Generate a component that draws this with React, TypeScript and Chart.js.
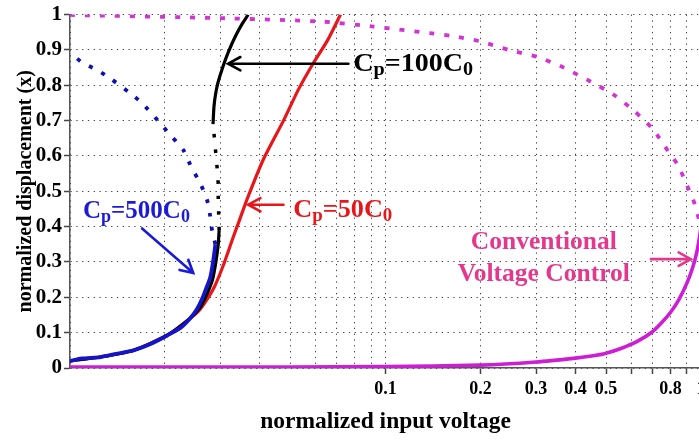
import { useEffect, useRef } from 'react';
import { Chart, registerables } from 'chart.js';

Chart.register(...registerables);

const FONT = '"Liberation Serif", "Times New Roman", serif';

// x-axis (log) ticks and which of them carry labels
const xTicks = [0.01, 0.02, 0.03, 0.04, 0.05, 0.06, 0.07, 0.08, 0.09, 0.1, 0.2, 0.3, 0.4, 0.5, 0.6, 0.7, 0.8, 0.9, 1];
const xLabeled = [0.1, 0.2, 0.3, 0.4, 0.5, 0.8, 1];
const yTicks = [0, 0.1, 0.2, 0.3, 0.4, 0.5, 0.6, 0.7, 0.8, 0.9, 1];

// Cp = 500 C0 : stable (solid) and unstable (dotted) branches
const cp500StableX = [0.0100, 0.0109, 0.0125, 0.0140, 0.0159, 0.0180, 0.0203, 0.0225, 0.0240, 0.0253, 0.0262, 0.0270, 0.0278, 0.0284, 0.0289];
const cp500StableY = [0.020, 0.027, 0.031, 0.040, 0.050, 0.068, 0.092, 0.115, 0.140, 0.168, 0.195, 0.225, 0.255, 0.300, 0.350];
const cp500UnstableX = [0.0289, 0.0282, 0.0278, 0.0272, 0.0261, 0.0240, 0.0229, 0.0203, 0.0190, 0.0169, 0.0156, 0.0134, 0.0122, 0.0109, 0.0102, 0.0100];
const cp500UnstableY = [0.350, 0.390, 0.432, 0.475, 0.515, 0.577, 0.616, 0.670, 0.700, 0.750, 0.776, 0.820, 0.843, 0.865, 0.886, 0.890];

// Cp = 100 C0 : lower solid, dotted fold, upper solid
const cp100LowerX = [0.0100, 0.0125, 0.0159, 0.0203, 0.0240, 0.0258, 0.0272, 0.0283, 0.0290, 0.0295, 0.0297];
const cp100LowerY = [0.020, 0.031, 0.050, 0.092, 0.140, 0.170, 0.210, 0.250, 0.300, 0.350, 0.390];
const cp100FoldX = [0.0297, 0.0296, 0.0295, 0.0295, 0.0293, 0.0290, 0.0287, 0.0284];
const cp100FoldY = [0.390, 0.434, 0.480, 0.520, 0.560, 0.605, 0.650, 0.690];
const cp100UpperX = [0.0284, 0.0286, 0.0290, 0.0295, 0.0306, 0.0318, 0.0335, 0.0352, 0.0367];
const cp100UpperY = [0.690, 0.740, 0.780, 0.810, 0.855, 0.895, 0.940, 0.975, 1.000];

// Cp = 50 C0
const cp50X = [0.0100, 0.0125, 0.0159, 0.0203, 0.0240, 0.0255, 0.0270, 0.0287, 0.0306, 0.0329, 0.0345, 0.0365, 0.0410, 0.0475, 0.0529, 0.0591, 0.0655, 0.0720];
const cp50Y = [0.020, 0.031, 0.050, 0.092, 0.140, 0.160, 0.190, 0.230, 0.290, 0.370, 0.420, 0.480, 0.590, 0.700, 0.787, 0.863, 0.927, 1.000];

// Conventional voltage control: stable (solid) and unstable (dotted)
const convStableX = [0.0100, 0.0500, 0.1000, 0.2000, 0.3000, 0.4000, 0.4500, 0.5000, 0.5600, 0.6300, 0.7000, 0.7500, 0.8000, 0.8500, 0.9000, 0.9400, 0.9700, 0.9900, 1.0000];
const convStableY = [0.003, 0.003, 0.004, 0.008, 0.017, 0.028, 0.034, 0.042, 0.056, 0.076, 0.102, 0.128, 0.157, 0.193, 0.238, 0.283, 0.328, 0.372, 0.400];
const convUnstableX = [0.0100, 0.0300, 0.0636, 0.0916, 0.1608, 0.2003, 0.2458, 0.3038, 0.3674, 0.4476, 0.5255, 0.6129, 0.7040, 0.7914, 0.8453, 0.9161, 0.9500, 0.9784, 1.0000];
const convUnstableY = [0.999, 0.990, 0.980, 0.966, 0.940, 0.924, 0.900, 0.880, 0.850, 0.810, 0.775, 0.728, 0.676, 0.610, 0.574, 0.504, 0.470, 0.430, 0.400];

const zip = (xs: number[], ys: number[]) => xs.map((x, i) => ({ x, y: ys[i] }));

type Part = { t: string; sub?: boolean };
const labels = [
  { parts: [{ t: 'C' }, { t: 'p', sub: true }, { t: '=100C' }, { t: '0', sub: true }] as Part[], x: 0.0791, y: 0.840, color: '#000000', stretch: 1.12 },
  { parts: [{ t: 'C' }, { t: 'p', sub: true }, { t: '=50C' }, { t: '0', sub: true }] as Part[], x: 0.0510, y: 0.4286, color: '#e8161a', stretch: 1.05 },
  { parts: [{ t: 'C' }, { t: 'p', sub: true }, { t: '=500C' }, { t: '0', sub: true }] as Part[], x: 0.0110, y: 0.4258, color: '#1a1ad8', stretch: 1.0 },
];
const arrows = [
  { from: [0.0763, 0.861], to: [0.0317, 0.861], color: '#000000' },
  { from: [0.0475, 0.462], to: [0.0367, 0.462], color: '#e8161a' },
  { from: [0.01692, 0.395], to: [0.02458, 0.269], color: '#1a1ad8' },
  { from: [0.6937, 0.308], to: [0.929, 0.308], color: '#e4388e' },
];
const convLines = ['Conventional', 'Voltage Control'];
const convLabel = { x: 0.3174, y: [0.336, 0.2465], color: '#e4388e' };

const annotationPlugin = {
  id: 'annots',
  afterDatasetsDraw(chart: any) {
    const { ctx } = chart;
    const sx = chart.scales.x;
    const sy = chart.scales.y;
    ctx.save();
    ctx.textBaseline = 'alphabetic';
    // arrows
    for (const a of arrows) {
      const x1 = sx.getPixelForValue(a.from[0]);
      const y1 = sy.getPixelForValue(a.from[1]);
      const x2 = sx.getPixelForValue(a.to[0]);
      const y2 = sy.getPixelForValue(a.to[1]);
      const ang = Math.atan2(y2 - y1, x2 - x1);
      ctx.strokeStyle = a.color;
      ctx.lineWidth = 2.6;
      ctx.lineCap = 'round';
      ctx.lineJoin = 'miter';
      ctx.beginPath();
      ctx.moveTo(x1, y1);
      ctx.lineTo(x2, y2);
      const hl = 14;
      const ha = 0.5;
      ctx.moveTo(x2 - hl * Math.cos(ang - ha), y2 - hl * Math.sin(ang - ha));
      ctx.lineTo(x2, y2);
      ctx.lineTo(x2 - hl * Math.cos(ang + ha), y2 - hl * Math.sin(ang + ha));
      ctx.stroke();
    }
    // rich labels with subscripts
    const size = 25;
    for (const l of labels) {
      const x0 = sx.getPixelForValue(l.x);
      const by = sy.getPixelForValue(l.y);
      ctx.save();
      ctx.translate(x0, by);
      ctx.scale(l.stretch, 1);
      ctx.fillStyle = l.color;
      ctx.textAlign = 'left';
      let cx = 0;
      for (const p of l.parts) {
        const s = p.sub ? 18 : size;
        ctx.font = `bold ${s}px ${FONT}`;
        ctx.fillText(p.t, cx, p.sub ? 4 : 0);
        cx += ctx.measureText(p.t).width;
      }
      ctx.restore();
    }
    // conventional label
    ctx.font = `bold 25.5px ${FONT}`;
    ctx.fillStyle = convLabel.color;
    ctx.textAlign = 'center';
    const cxp = sx.getPixelForValue(convLabel.x);
    convLines.forEach((t, i) => {
      ctx.fillText(t, cxp, sy.getPixelForValue(convLabel.y[i]));
    });
    ctx.restore();
  },
};

export default function App() {
  const ref = useRef<HTMLCanvasElement | null>(null);
  useEffect(() => {
    if (!ref.current) return;
    Chart.defaults.font.family = FONT;
    const solid = (data: any, color: string, w: number) => ({
      data, borderColor: color, borderWidth: w, showLine: true, pointRadius: 0, fill: false, tension: 0.2,
    });
    const dotted = (data: any, color: string, w: number, dash: number[]) => ({
      data, borderColor: color, borderWidth: w, showLine: true, pointRadius: 0, fill: false, tension: 0.2,
      borderDash: dash, borderCapStyle: 'butt',
    });
    const chart = new Chart(ref.current, {
      type: 'scatter',
      data: {
        datasets: [
          solid(zip(cp500StableX, cp500StableY), '#1414c8', 3.8),
          dotted(zip(cp500UnstableX, cp500UnstableY), '#1010b0', 3.8, [4, 10]),
          solid(zip(cp100LowerX, cp100LowerY), '#000000', 3.2),
          dotted(zip(cp100FoldX, cp100FoldY), '#000000', 3.5, [3.5, 12]),
          solid(zip(cp100UpperX, cp100UpperY), '#000000', 3.2),
          solid(zip(cp50X, cp50Y), '#e8161a', 3.2),
          solid(zip(convStableX, convStableY), '#cc1fd4', 3.6),
          dotted(zip(convUnstableX, convUnstableY), '#d233d2', 3.8, [5, 10]),
        ] as any,
      },
      options: {
        animation: false,
        responsive: false,
        maintainAspectRatio: false,
        events: [],
        layout: { padding: { left: 0, right: 19, top: 11, bottom: 0 } },
        plugins: { legend: { display: false }, tooltip: { enabled: false }, title: { display: false } },
        scales: {
          x: {
            type: 'logarithmic',
            min: 0.01,
            max: 1,
            afterBuildTicks: (s: any) => { s.ticks = xTicks.map((v) => ({ value: v })); },
            afterFit: (s: any) => { s.height = 73; },
            ticks: {
              autoSkip: false, maxRotation: 0, minRotation: 0, padding: 5, color: '#000',
              font: { size: 18, weight: 'bold', family: FONT },
              callback: (v: any) => (xLabeled.some((t) => Math.abs(t - v) < 1e-9) ? String(v) : ''),
            },
            grid: {
              color: '#444', lineWidth: 1, tickLength: 6, tickWidth: 1.5,
              tickColor: (c: any) => (c.tick && c.tick.value >= 0.0999 ? '#444' : 'rgba(0,0,0,0)'),
            },
            border: { display: true, color: '#555', width: 1.5, dash: [1.3, 4.5] },
            title: {
              display: true, text: 'normalized input voltage', color: '#000',
              font: { size: 23.5, weight: 'bold', family: FONT }, padding: { top: 0, bottom: 5 },
            },
          } as any,
          y: {
            type: 'linear',
            min: 0,
            max: 1,
            afterBuildTicks: (s: any) => { s.ticks = yTicks.map((v) => ({ value: v })); },
            afterFit: (s: any) => { s.width = 70; },
            ticks: {
              padding: 2, color: '#000', font: { size: 21, weight: 'bold', family: FONT },
              callback: (v: any) => String(Math.round(v * 10) / 10),
            },
            grid: { color: '#444', lineWidth: 1, tickLength: 6, tickColor: '#444', tickWidth: 1.5 },
            border: { display: true, color: '#555', width: 1.5, dash: [1.3, 4.5] },
            title: {
              display: true, text: 'normalized displacement (x)', color: '#000',
              font: { size: 20, weight: 'bold', family: FONT }, padding: { top: 14, bottom: 0 },
            },
          } as any,
        },
      },
      plugins: [annotationPlugin],
    });
    return () => chart.destroy();
  }, []);
  return (
    <div style={{ position: 'fixed', left: 0, top: 0, width: 699, height: 441, overflow: 'hidden', background: '#fff' }}>
      <canvas ref={ref} width={720} height={441} style={{ width: 720, height: 441, display: 'block' }} />
    </div>
  );
}
